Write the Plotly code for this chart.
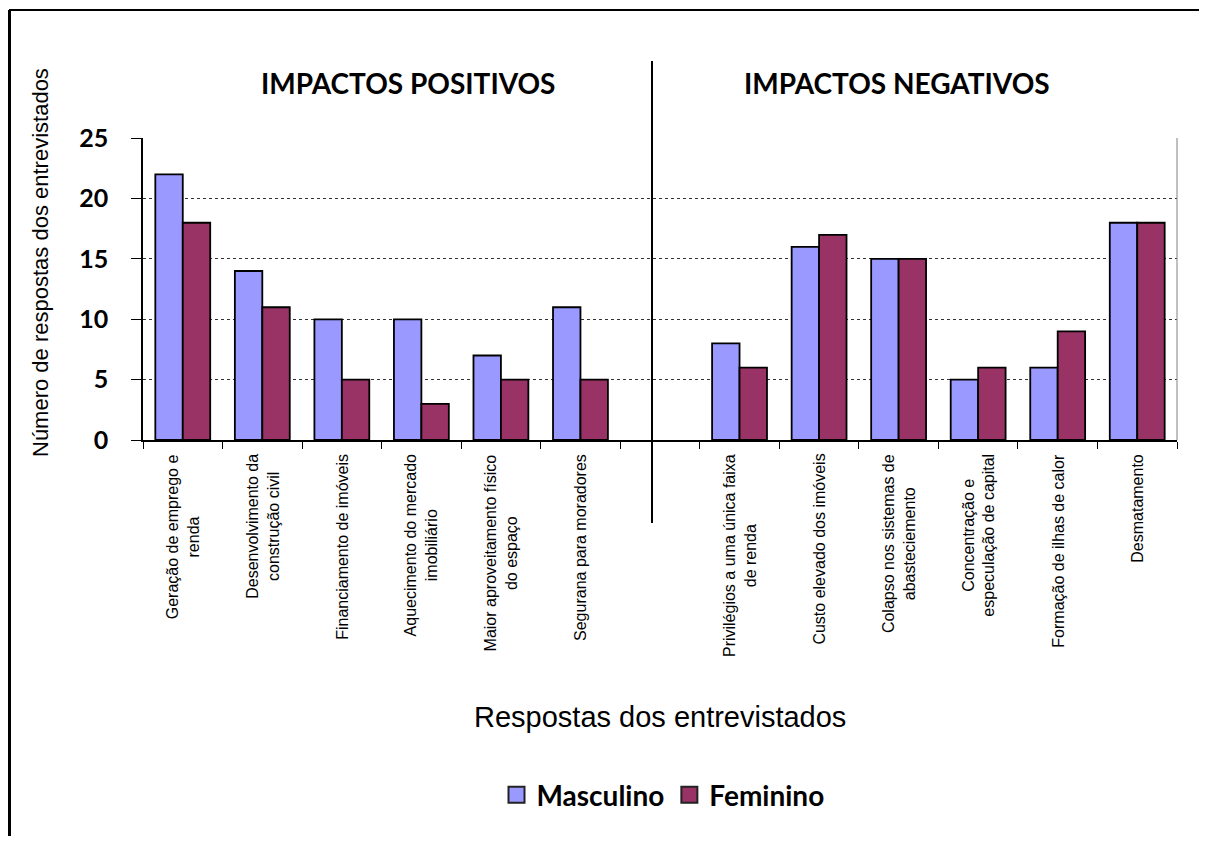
import plotly.graph_objects as go

# ── Dados ─────────────────────────────────────────────────────────────────────
categorias = [
    "Geração de emprego e<br>renda",
    "Desenvolvimento da<br>construção civil",
    "Financiamento de imóveis",
    "Aquecimento do mercado<br>imobiliário",
    "Maior aproveitamento físico<br>do espaço",
    "Segurana para moradores",
    " ",
    "Privilégios a uma única faixa<br>de renda",
    "Custo elevado dos imóveis",
    "Colapso nos sistemas de<br>abasteciemento",
    "Concentração e<br>especulação de capital",
    "Formação de ilhas de calor",
    "Desmatamento",
]
masculino = [22, 14, 10, 10, 7, 11, None, 8, 16, 15, 5, 6, 18]
feminino = [18, 11, 5, 3, 5, 5, None, 6, 17, 15, 6, 9, 18]

titulos_secao = ["IMPACTOS POSITIVOS", "IMPACTOS NEGATIVOS"]
y_ticks = [0, 5, 10, 15, 20, 25]

# ── Estilo ────────────────────────────────────────────────────────────────────
C = {
    "masc": "#9999FF",
    "fem": "#993366",
    "grid": "#333333",
    "text": "#000000",
}
ARIAL = "Liberation Sans, Arial, sans-serif"
CALIBRI = "Lato, Calibri, sans-serif"

# a página tem margem de 8px no body: a figura ocupa o resto da janela
OFF = 8
W, H = 1207 - 2 * OFF, 844 - 2 * OFF
ML, MT = 143 - OFF, 138 - OFF
MR, MB = W - (1177 - OFF), H - (440 - OFF)
PW, PH = W - ML - MR, H - MT - MB


def px_x(px):
    """Pixel horizontal (janela) -> coordenada paper."""
    return (px - OFF - ML) / PW


def px_y(py):
    """Pixel vertical (janela) -> coordenada paper."""
    return (H - MB - (py - OFF)) / PH


fig = go.Figure()
for nome, vals, cor in [("Masculino", masculino, C["masc"]), ("Feminino", feminino, C["fem"])]:
    fig.add_trace(go.Bar(
        x=categorias, y=vals, name=nome, showlegend=False,
        marker=dict(color=cor, line=dict(color="black", width=1.8)),
    ))
    # entrada de legenda com quadrado maior
    fig.add_trace(go.Scatter(
        x=[None], y=[None], mode="markers", name=nome,
        marker=dict(symbol="square", size=16, color=cor, line=dict(color="#222", width=2)),
    ))

# rótulos das categorias (centralizados, verticais)
annotations = []
for cat in categorias:
    if cat.strip():
        annotations.append(dict(
            x=cat, xref="x", y=0, yref="paper", yanchor="top", xanchor="center",
            yshift=-12, text=cat, textangle=-90, align="center", showarrow=False,
            font=dict(family=ARIAL, size=16, color=C["text"]),
        ))

# títulos das seções
for txt, px in zip(titulos_secao, [408, 897]):
    annotations.append(dict(
        x=px_x(px), y=px_y(83), xref="paper", yref="paper",
        xanchor="center", yanchor="middle", text=f"<b>{txt}</b>", showarrow=False,
        font=dict(family=CALIBRI, size=28, color=C["text"]),
    ))

# títulos dos eixos
annotations.append(dict(
    x=px_x(660), y=px_y(717), xref="paper", yref="paper",
    xanchor="center", yanchor="middle", text="Respostas dos entrevistados",
    showarrow=False, font=dict(family=ARIAL, size=29, color=C["text"]),
))
annotations.append(dict(
    x=px_x(40), y=px_y(263), xref="paper", yref="paper",
    xanchor="center", yanchor="middle", text="Número de respostas dos entrevistados",
    textangle=-90, showarrow=False, font=dict(family=ARIAL, size=22, color=C["text"]),
))

shapes = [
    # linha divisória entre positivos e negativos
    dict(type="line", xref="paper", yref="paper",
         x0=px_x(652), x1=px_x(652), y0=px_y(61), y1=px_y(523),
         line=dict(color="black", width=2)),
    # borda direita da área do gráfico
    dict(type="line", xref="paper", yref="paper",
         x0=1, x1=1, y0=0, y1=1, line=dict(color="#808080", width=1)),
    # moldura externa (topo e esquerda)
    dict(type="line", xref="paper", yref="paper",
         x0=px_x(9), x1=px_x(1215), y0=px_y(10), y1=px_y(10),
         line=dict(color="black", width=2)),
    dict(type="line", xref="paper", yref="paper",
         x0=px_x(9.5), x1=px_x(9.5), y0=px_y(10), y1=px_y(850),
         line=dict(color="black", width=3)),
]

fig.update_layout(
    width=W, height=H,
    margin=dict(l=ML, r=MR, t=MT, b=MB),
    paper_bgcolor="white", plot_bgcolor="white",
    barmode="group", bargap=0.31, bargroupgap=0,
    showlegend=True,
    legend=dict(
        orientation="h", x=px_x(663), y=px_y(795),
        xanchor="center", yanchor="middle",
        font=dict(family=CALIBRI, size=28, color=C["text"], weight="bold"),
        bgcolor="rgba(0,0,0,0)", itemsizing="trace",
    ),
    annotations=annotations,
    shapes=shapes,
    xaxis=dict(
        type="category", showticklabels=False,
        ticks="outside", tickson="boundaries", ticklen=7, tickcolor="black",
        showline=True, linecolor="black", linewidth=2,
        showgrid=False, zeroline=False,
    ),
    yaxis=dict(
        range=[0, 25.02], tickvals=y_ticks,
        ticks="outside", ticklen=10, tickcolor="black",
        showline=True, linecolor="black", linewidth=1.5,
        showgrid=True, gridcolor=C["grid"], griddash="dot", gridwidth=1,
        zeroline=False,
        tickfont=dict(family=CALIBRI, size=25, color=C["text"], weight="bold"),
        ticklabelstandoff=18,
    ),
)

fig.write_html("out.html")
